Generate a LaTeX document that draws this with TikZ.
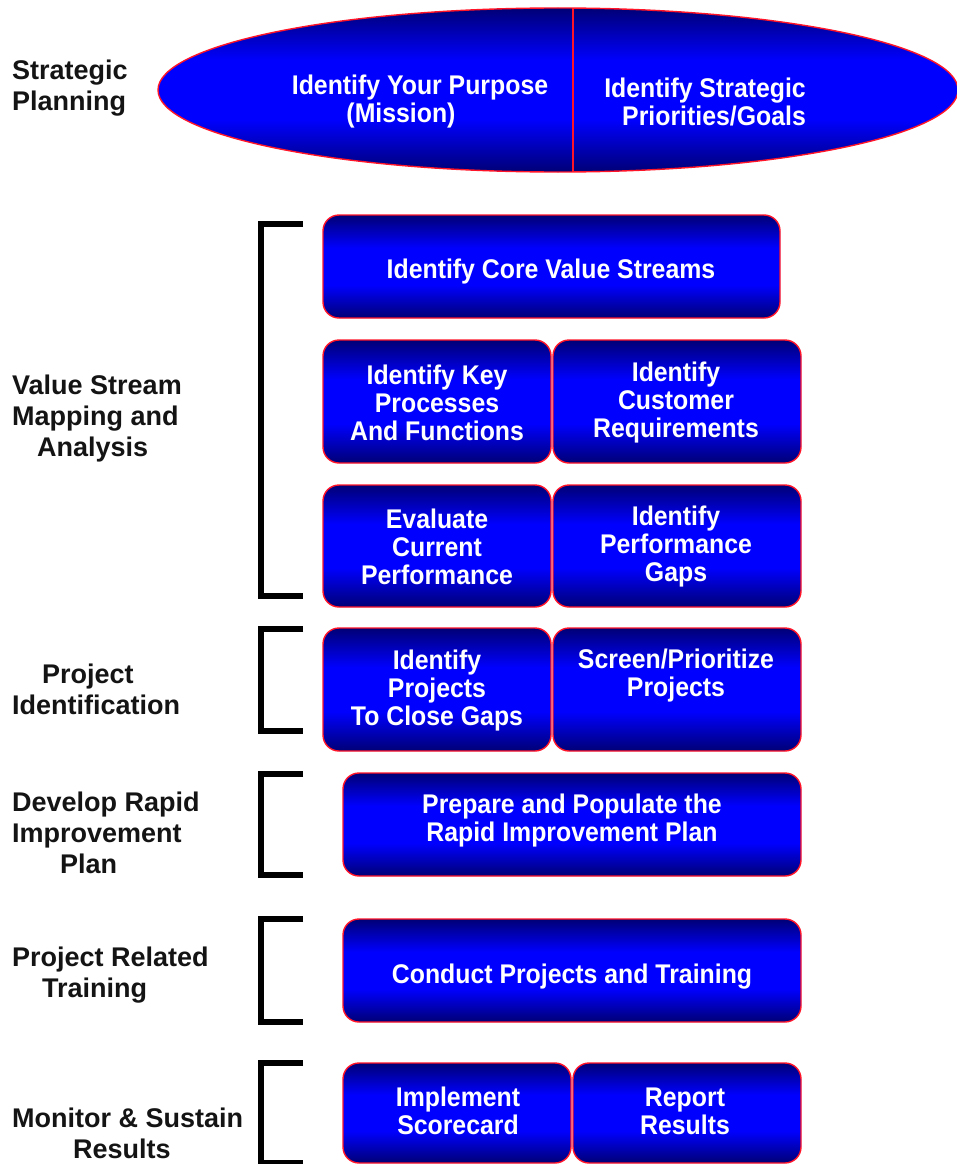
\documentclass[tikz,border=0pt]{standalone}
\usepackage{fontspec}
\setmainfont{Liberation Sans}
\newfontfamily\stepfont[FakeStretch=0.92]{Liberation Sans}
\usetikzlibrary{shapes.geometric}

\definecolor{navyd}{RGB}{0,0,118}
\definecolor{brightb}{RGB}{0,0,255}
\definecolor{rimred}{RGB}{255,20,40}

% dark at top and bottom, bright band through the middle
\pgfdeclareverticalshading{bluebar}{100bp}{%
  color(0bp)=(navyd); color(25bp)=(navyd); color(41bp)=(brightb);
  color(59bp)=(brightb); color(75bp)=(navyd); color(100bp)=(navyd)}

\tikzset{
  stepbox/.style={shading=bluebar, draw=rimred, line width=1.4pt,
    rounded corners=16pt, inner sep=0pt, rectangle},
  steptext/.style={text=white, align=center, inner sep=0pt,
    font=\stepfont\bfseries\fontsize{27}{28}\selectfont},
  phase/.style={text=black!92, align=left, inner sep=0pt, anchor=west,
    font=\bfseries\fontsize{27}{31}\selectfont},
  bracket/.style={draw=black, line width=6.5pt, line join=miter},
  divider/.style={draw=rimred, line width=1.4pt}
}

\begin{document}
\begin{tikzpicture}[x=1pt,y=-1pt]
\clip (0,0) rectangle (957,1164);
\useasboundingbox (0,0) rectangle (957,1164);

% --- strategic planning ellipse ---
\node[ellipse, shading=bluebar, draw=rimred, line width=1.4pt, inner sep=0pt,
      minimum width=800pt, minimum height=164pt] (plan) at (558,90) {};
\coordinate (divtop) at (573,8);
\coordinate (divbot) at (573,172);
\draw[divider] (divtop) -- (divbot);
\node[steptext] (purpose) at (420,102) {Identify Your Purpose\\(Mission)\hspace*{38pt}};
\node[steptext, align=right, anchor=east] (goals) at (806,102)
  {Identify Strategic\\Priorities/Goals};

% --- phase labels ---
\node[phase] (lplan) at (12,88) {Strategic\\Planning};
\node[phase] (lvsm) at (12,419) {Value Stream\\Mapping and\\\hspace*{25pt}Analysis};
\node[phase] (lpid) at (12,689) {\hspace*{30pt}Project\\Identification};
\node[phase] (lrip) at (12,833) {Develop Rapid\\Improvement\\\hspace*{48pt}Plan};
\node[phase] (ltrn) at (12,975) {Project Related\\\hspace*{30pt}Training};
\node[phase] (lmon) at (12,1133) {Monitor \& Sustain\\\hspace*{61pt}Results};

% --- brackets ---
\draw[bracket] (303,224) -- (261,224) -- (261,596) -- (303,596);
\draw[bracket] (303,629) -- (261,629) -- (261,731) -- (303,731);
\draw[bracket] (303,774) -- (261,774) -- (261,875) -- (303,875);
\draw[bracket] (303,919) -- (261,919) -- (261,1022) -- (303,1022);
\draw[bracket] (303,1063) -- (261,1063) -- (261,1163) -- (303,1163);

% --- step boxes ---
\node[stepbox, minimum width=457pt, minimum height=103pt] (core) at (551.5,266.5) {};
\node[steptext] (tcore) at (551,272) {Identify Core Value Streams};

\node[stepbox, minimum width=228pt, minimum height=123pt] (keyproc) at (437,401.5) {};
\node[stepbox, minimum width=248pt, minimum height=123pt] (custreq) at (677,401.5) {};
\node[steptext] (tkeyproc) at (437,403) {Identify Key\\Processes\\And Functions};
\node[steptext] (tcustreq) at (676,403) {Identify\\Customer\\Requirements};

\node[stepbox, minimum width=228pt, minimum height=122pt] (evalperf) at (437,546) {};
\node[stepbox, minimum width=248pt, minimum height=122pt] (perfgaps) at (677,546) {};
\node[steptext] (tevalperf) at (437,547) {Evaluate\\Current\\Performance};
\node[steptext] (tperfgaps) at (676,547) {Identify\\Performance\\Gaps};

\node[stepbox, minimum width=228pt, minimum height=123pt] (closegaps) at (437,689.5) {};
\node[stepbox, minimum width=248pt, minimum height=123pt] (screen) at (677,689.5) {};
\node[steptext] (tclosegaps) at (437,691) {Identify\\Projects\\To Close Gaps};
\node[steptext] (tscreen) at (676,676) {Screen/Prioritize\\Projects};

\node[stepbox, minimum width=458pt, minimum height=103pt] (prepare) at (572,824.5) {};
\node[steptext] (tprepare) at (572,821) {Prepare and Populate the\\Rapid Improvement Plan};

\node[stepbox, minimum width=458pt, minimum height=103pt] (conduct) at (572,970.5) {};
\node[steptext] (tconduct) at (572,977) {Conduct Projects and Training};

\node[stepbox, minimum width=228pt, minimum height=100pt] (scorecard) at (457,1113) {};
\node[stepbox, minimum width=228pt, minimum height=100pt] (report) at (687,1113) {};
\node[steptext] (tscorecard) at (458,1111) {Implement\\Scorecard};
\node[steptext] (treport) at (685,1111) {Report\\Results};
\end{tikzpicture}
\end{document}
